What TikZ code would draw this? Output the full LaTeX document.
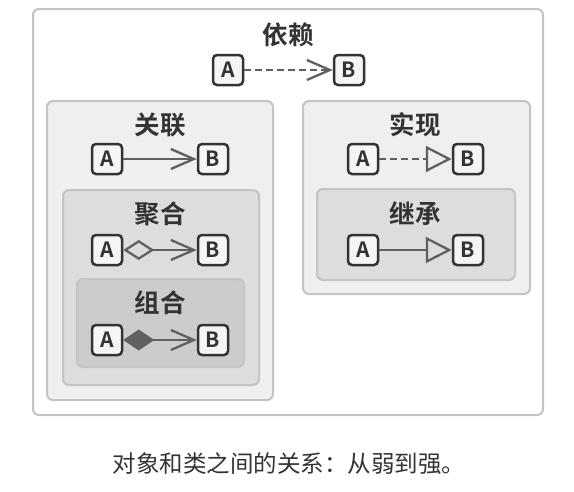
\documentclass[tikz,border=0pt]{standalone}
\usepackage{fontspec}
\usetikzlibrary{arrows.meta}
\newfontfamily\cjk{Noto Sans CJK SC}[BoldFont=* Bold]
\definecolor{frame}{RGB}{196,196,196}
\definecolor{shadeA}{RGB}{239,239,239}
\definecolor{shadeB}{RGB}{221,221,221}
\definecolor{shadeC}{RGB}{204,204,204}
\definecolor{ink}{RGB}{51,51,51}
\definecolor{wire}{RGB}{96,96,96}
\tikzset{
  panel/.style={draw=frame, line width=2pt, rounded corners=6pt},
  ttl/.style={font=\cjk\bfseries\fontsize{25.5}{25.5}\selectfont, text=ink, inner sep=0pt},
  cls/.style={draw=ink, fill=white!96!black, line width=2.5pt, rounded corners=4pt,
              minimum size=30pt, inner sep=0pt, text=ink,
              font=\cjk\bfseries\fontsize{21}{21}\selectfont},
  rel/.style={draw=wire, line width=2.3pt},
  barb/.style={-{Straight Barb[length=23pt, width=20pt, line width=2.3pt]}},
  tri/.style={-{Triangle[open, length=26pt, width=26pt, line width=2.3pt]}},
  dsh/.style={dash pattern=on 7pt off 4pt},
}

\begin{document}
\begin{tikzpicture}[x=1pt, y=-1pt]
  \useasboundingbox (0,0) rectangle (574,491);
  % nested panels
  \draw[panel, fill=white] (33,9) rectangle (543,415);
  \draw[panel, fill=shadeA] (47,101) rectangle (273,400);
  \draw[panel, fill=shadeB] (63,190) rectangle (259,385);
  \draw[panel, fill=shadeC] (77,279) rectangle (244,367);
  \draw[panel, fill=shadeA] (303,101) rectangle (530,294);
  \draw[panel, fill=shadeB] (317,189) rectangle (515,280);
  % titles
  \node[ttl] (tdep) at (288,35) {依赖};
  \node[ttl] (tass) at (160,125) {关联};
  \node[ttl] (tagg) at (160,214) {聚合};
  \node[ttl] (tcom) at (160,303) {组合};
  \node[ttl] (trea) at (415,125) {实现};
  \node[ttl] (tinh) at (415,214) {继承};
  % classes
  \node[cls] (depA) at (228,70) {A};
  \node[cls] (depB) at (349,70) {B};
  \node[cls] (assA) at (107,159) {A};
  \node[cls] (assB) at (213,159) {B};
  \node[cls] (aggA) at (107,250) {A};
  \node[cls] (aggB) at (213,250) {B};
  \node[cls] (comA) at (107,340) {A};
  \node[cls] (comB) at (213,340) {B};
  \node[cls] (reaA) at (363,159) {A};
  \node[cls] (reaB) at (468,159) {B};
  \node[cls] (inhA) at (363,250) {A};
  \node[cls] (inhB) at (468,250) {B};
  % relations
  \draw[rel, barb, dsh] (depA) -- (depB);
  \draw[rel, barb] (assA) -- (assB);
  \draw[rel, {Diamond[open, length=31pt, width=20pt, line width=2.3pt]}-{Straight Barb[length=23pt, width=20pt, line width=2.3pt]}] (aggA) -- (aggB);
  \draw[rel, {Diamond[length=31pt, width=21pt, fill=wire]}-{Straight Barb[length=23pt, width=20pt, line width=2.3pt]}] (comA) -- (comB);
  \draw[rel, tri, dsh] (reaA) -- (reaB);
  \draw[rel, tri] (inhA) -- (inhB);
  % caption
  \node[font=\cjk\fontsize{23.5}{23.5}\selectfont, text=ink, inner sep=0pt] (cap) at (289,464) {对象和类之间的关系：从弱到强。};
\end{tikzpicture}
\end{document}
